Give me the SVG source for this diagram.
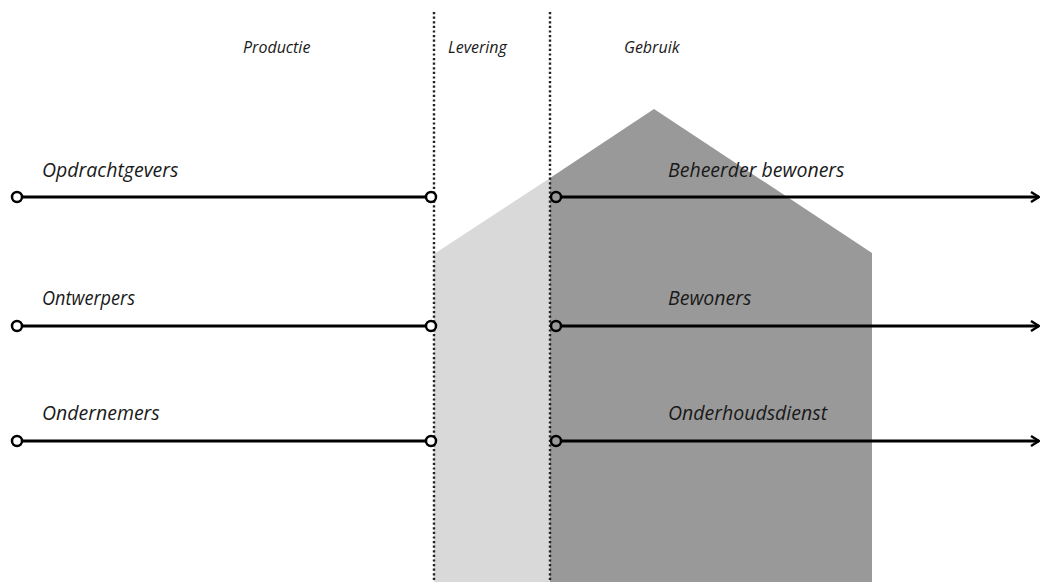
<svg xmlns="http://www.w3.org/2000/svg" width="1042" height="582" viewBox="0 0 1042 582">
<style>
.lbl{font-family:"Open Sans","Liberation Sans",sans-serif;font-style:italic;font-size:19.5px;fill:#1a1a1a}
.hdr{font-family:"Open Sans","Liberation Sans",sans-serif;font-style:italic;font-size:16px;fill:#1a1a1a}
.ln{stroke:#000;stroke-width:2.8;fill:none}
.dot{fill:#fff;stroke:#000;stroke-width:2.5}
.dotr{fill:none;stroke:#000;stroke-width:2.5}
.sep{stroke:#222;stroke-width:2.4;stroke-dasharray:2.2 2.4;fill:none}
</style>
<defs>
<marker id="arr" viewBox="0 0 10 12" refX="9" refY="6" markerWidth="10" markerHeight="12" markerUnits="userSpaceOnUse" orient="auto">
<path d="M1 1 L9 6 L1 11" fill="none" stroke="#000" stroke-width="2.4"/>
</marker>
</defs>
<g id="house">
<polygon points="434,254 550,178 550,582 434,582" fill="#d9d9d9"/>
<polygon points="550,178 654,109 872,253 872,582 550,582" fill="#999999"/>
</g>
<g id="separators">
<line class="sep" x1="434" y1="12" x2="434" y2="582"/>
<line class="sep" x1="550" y1="12" x2="550" y2="582"/>
</g>
<g id="headers">
<text class="hdr" x="243" y="53">Productie</text>
<text class="hdr" x="448" y="53">Levering</text>
<text class="hdr" x="624" y="53">Gebruik</text>
</g>
<g id="connectors">
<line class="ln" x1="22" y1="197" x2="426" y2="197"/>
<line class="ln" x1="22" y1="326" x2="426" y2="326"/>
<line class="ln" x1="22" y1="441" x2="426" y2="441"/>
<line class="ln" x1="561" y1="197" x2="1039" y2="197" marker-end="url(#arr)"/>
<line class="ln" x1="561" y1="326" x2="1039" y2="326" marker-end="url(#arr)"/>
<line class="ln" x1="561" y1="441" x2="1039" y2="441" marker-end="url(#arr)"/>
</g>
<g id="opdrachtgevers">
<circle class="dot" cx="17" cy="197" r="5"/>
<circle class="dot" cx="431" cy="197" r="5"/>
<text class="lbl" x="42" y="177">Opdrachtgevers</text>
</g>
<g id="ontwerpers">
<circle class="dot" cx="17" cy="326" r="5"/>
<circle class="dot" cx="431" cy="326" r="5"/>
<text class="lbl" x="42" y="305" textLength="93" lengthAdjust="spacingAndGlyphs">Ontwerpers</text>
</g>
<g id="ondernemers">
<circle class="dot" cx="17" cy="441" r="5"/>
<circle class="dot" cx="431" cy="441" r="5"/>
<text class="lbl" x="42" y="420">Ondernemers</text>
</g>
<g id="beheerder-bewoners">
<circle class="dotr" cx="556" cy="197" r="5"/>
<text class="lbl" x="668" y="177">Beheerder bewoners</text>
</g>
<g id="bewoners">
<circle class="dotr" cx="556" cy="326" r="5"/>
<text class="lbl" x="668" y="305">Bewoners</text>
</g>
<g id="onderhoudsdienst">
<circle class="dotr" cx="556" cy="441" r="5"/>
<text class="lbl" x="668" y="420">Onderhoudsdienst</text>
</g>
</svg>
